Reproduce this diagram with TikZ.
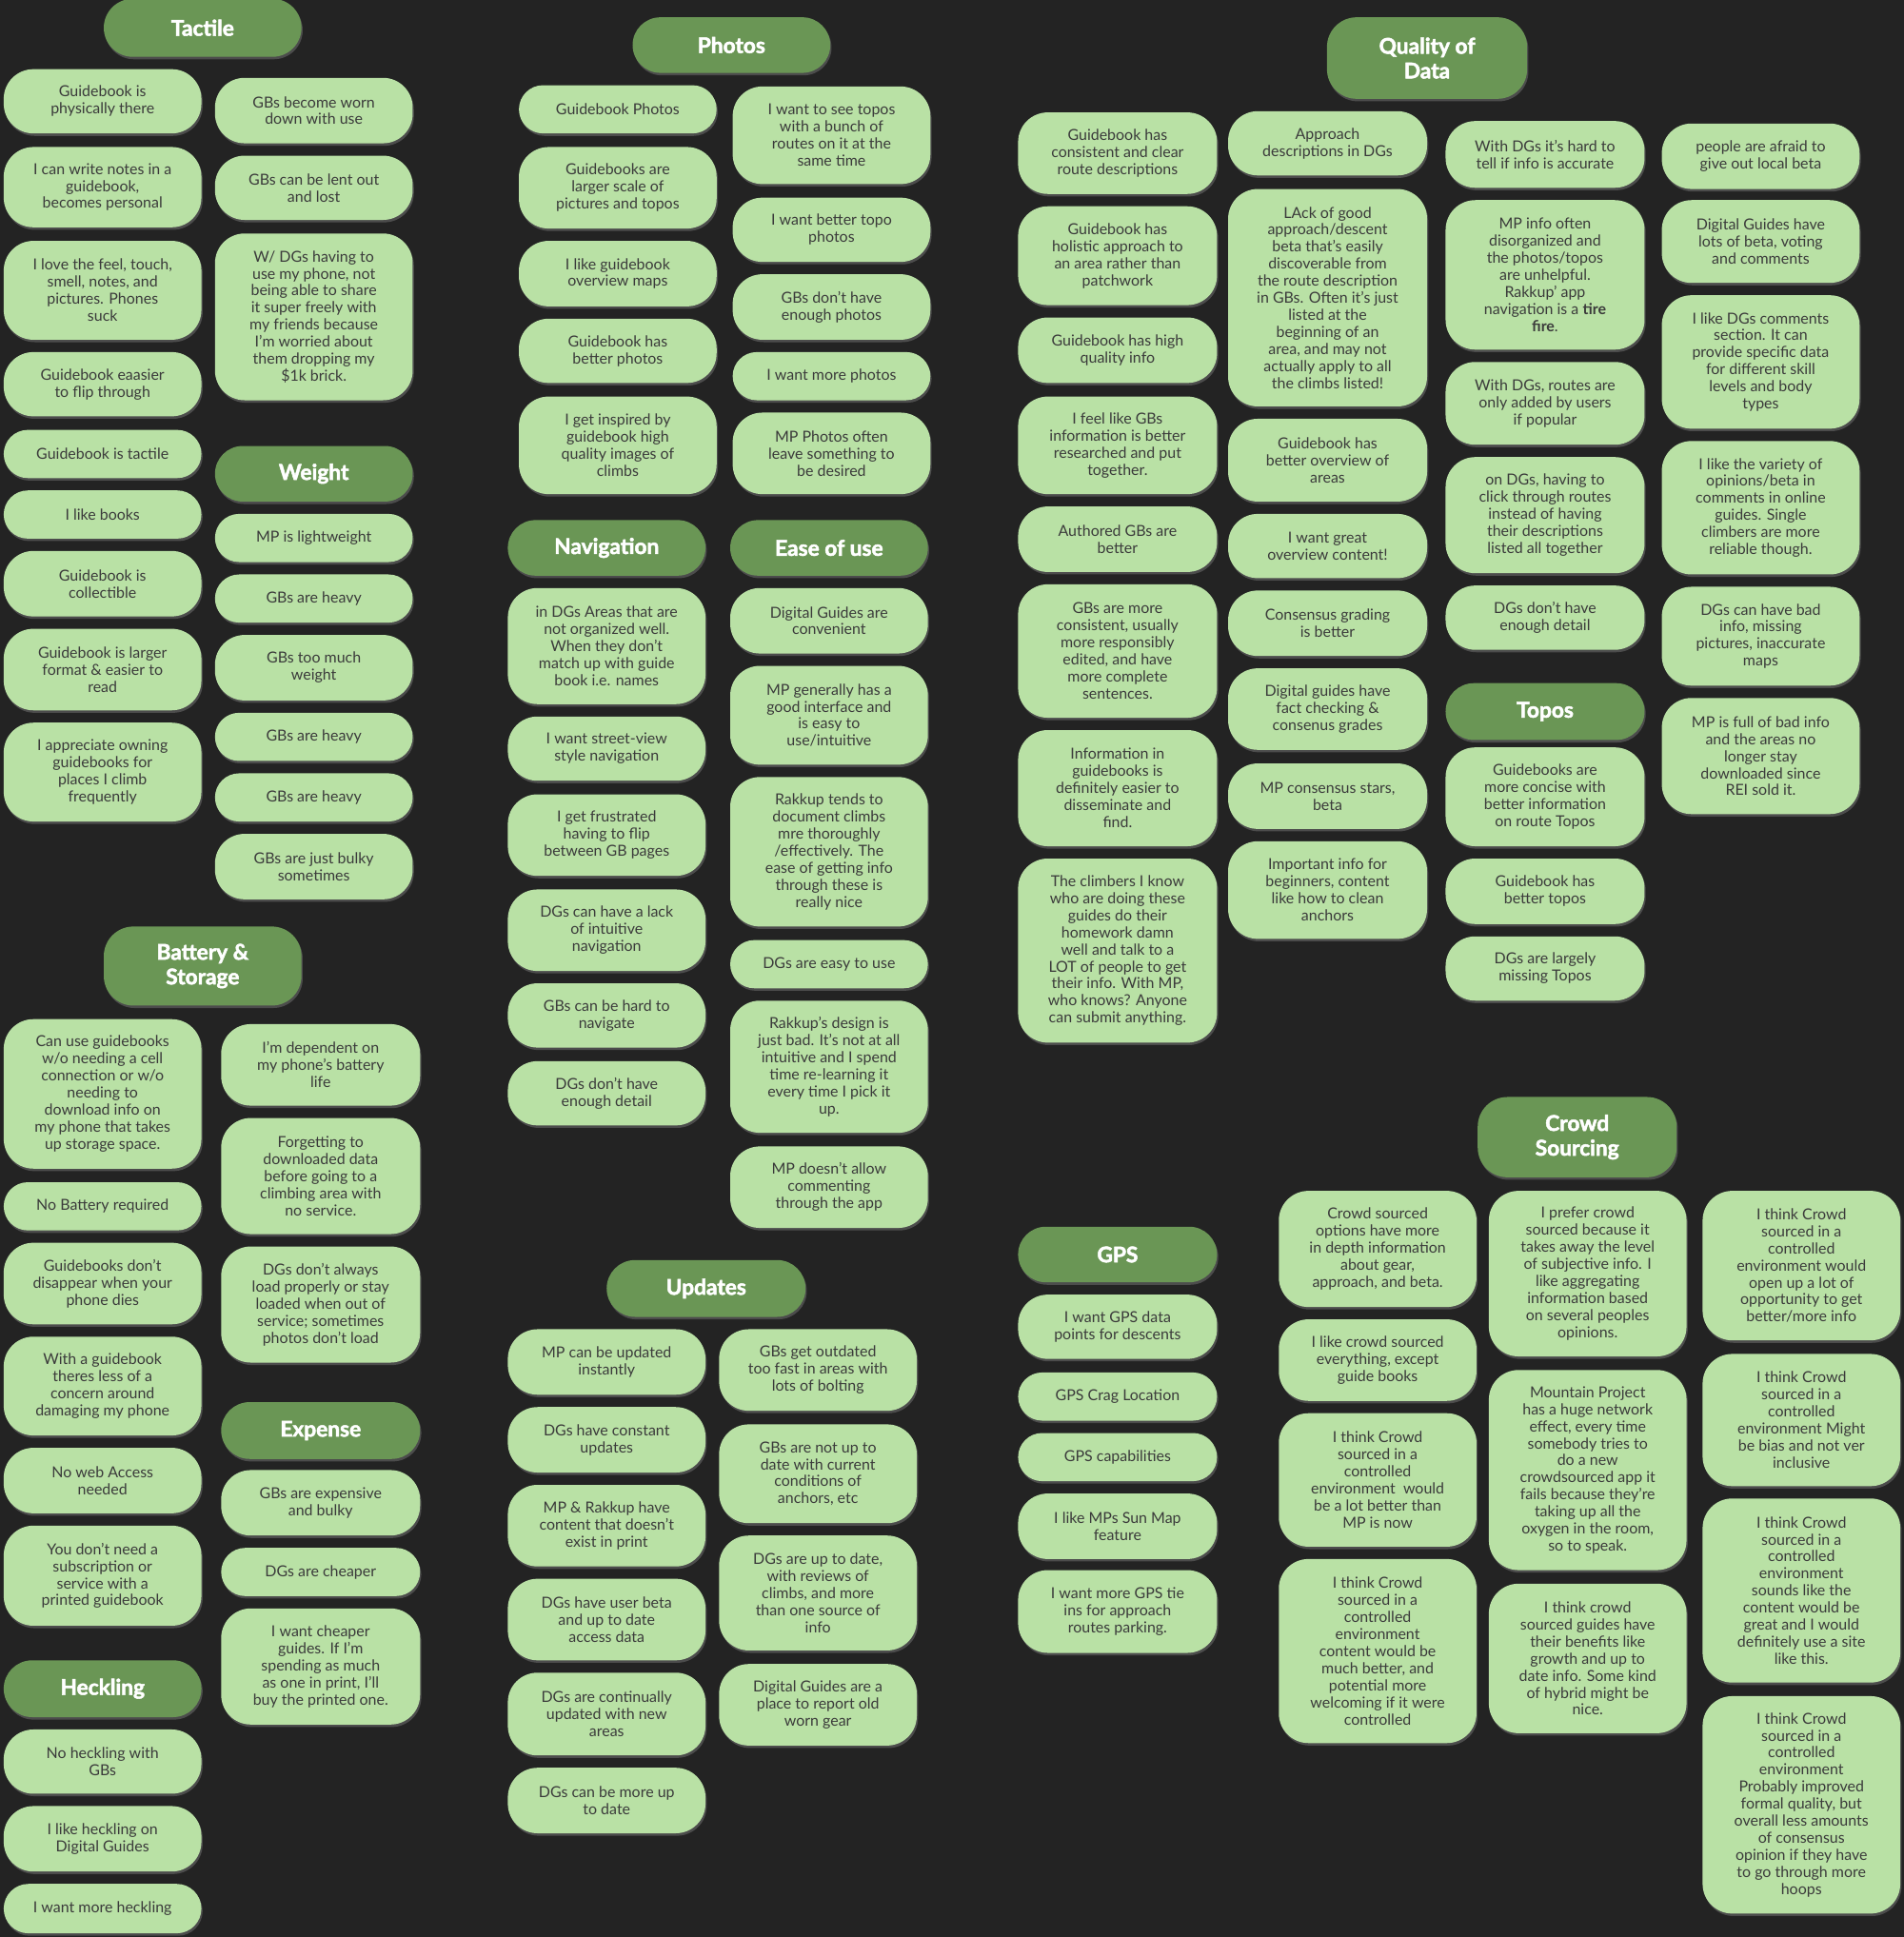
\documentclass[tikz,border=0pt]{standalone}
\usepackage{fontspec}
\setmainfont{Lato}
\newfontfamily\hdfont{Lato}[BoldFeatures={FakeBold=2.2}]
\usetikzlibrary{shadows}
\definecolor{bgc}{HTML}{232323}
\definecolor{notefill}{HTML}{B9E1A5}
\definecolor{headfill}{HTML}{6A9655}
\definecolor{notetext}{HTML}{3B3B3B}
\tikzset{
  note/.style={fill=notefill, text=notetext, align=center, inner sep=0pt,
    font=\fontsize{12.3}{13.8}\selectfont,
    drop shadow={opacity=0.45, shadow xshift=1pt, shadow yshift=-2pt}},
  head/.style={fill=headfill, text=white, align=center, inner sep=0pt,
    font=\hdfont\fontsize{17.5}{20}\selectfont\bfseries,
    drop shadow={opacity=0.45, shadow xshift=1pt, shadow yshift=-2pt}}
}
\newcommand\notebox[7]{%
  \pgfmathsetmacro\nbh{#6-#4}%
  \pgfmathsetmacro\nbr{min(24,\nbh/2)}%
  \node[#1, rounded corners=\nbr pt, minimum width={#5-#3}, minimum height=\nbh pt] (#2) at ({(#3+#5)/2},{(#4+#6)/2}) {#7};%
}
\begin{document}
\begin{tikzpicture}[x=1pt,y=-1pt]
\useasboundingbox (0,0) rectangle (1541,1568);
\fill[bgc] (0,0) rectangle (1541,1568);
% ---------- Tactile ----------
\notebox{head}{hTactile}{84}{-1}{244}{46}{Tactile}
\notebox{note}{t1}{3}{56}{163}{108}{Guidebook is\\physically there}
\notebox{note}{t2}{3}{119}{163}{184}{I can write notes in a\\guidebook,\\becomes personal}
\notebox{note}{t3}{3}{195}{163}{275}{I love the feel, touch,\\smell, notes, and\\pictures. Phones\\suck}
\notebox{note}{t4}{3}{285}{163}{337}{Guidebook eaasier\\to flip through}
\notebox{note}{t5}{3}{348}{163}{387}{Guidebook is tactile}
\notebox{note}{t6}{3}{397}{163}{436}{I like books}
\notebox{note}{t7}{3}{446}{163}{499}{Guidebook is\\collectible}
\notebox{note}{t8}{3}{509}{163}{575}{Guidebook is larger\\format \& easier to\\read}
\notebox{note}{t9}{3}{585}{163}{665}{I appreciate owning\\guidebooks for\\places I climb\\frequently}
\notebox{note}{t10}{174}{63}{334}{116}{GBs become worn\\down with use}
\notebox{note}{t11}{174}{126}{334}{178}{GBs can be lent out\\and lost}
\notebox{note}{t12}{174}{189}{334}{324}{W/ DGs having to\\use my phone, not\\being able to share\\it super freely with\\my friends because\\I'm worried about\\them dropping my\\\$1k brick.}
% ---------- Weight ----------
\notebox{head}{hWeight}{174}{361}{334}{406}{Weight}
\notebox{note}{w1}{174}{416}{334}{455}{MP is lightweight}
\notebox{note}{w2}{174}{465}{334}{504}{GBs are heavy}
\notebox{note}{w3}{174}{514}{334}{567}{GBs too much\\weight}
\notebox{note}{w4}{174}{577}{334}{616}{GBs are heavy}
\notebox{note}{w5}{174}{626}{334}{665}{GBs are heavy}
\notebox{note}{w6}{174}{675}{334}{728}{GBs are just bulky\\sometimes}
% ---------- Battery & Storage ----------
\notebox{head}{hBattery}{84}{750}{244}{814}{Battery \&\\Storage}
\notebox{note}{b1}{3}{825}{163}{946}{Can use guidebooks\\w/o needing a cell\\connection or w/o\\needing to\\download info on\\my phone that takes\\up storage space.}
\notebox{note}{b2}{3}{957}{163}{996}{No Battery required}
\notebox{note}{b3}{3}{1006}{163}{1072}{Guidebooks don't\\disappear when your\\phone dies}
\notebox{note}{b4}{3}{1082}{163}{1162}{With a guidebook\\theres less of a\\concern around\\damaging my phone}
\notebox{note}{b5}{3}{1172}{163}{1225}{No web Access\\needed}
\notebox{note}{b6}{3}{1235}{163}{1316}{You don't need a\\subscription or\\service with a\\printed guidebook}
\notebox{note}{b7}{179}{829}{340}{895}{I'm dependent on\\my phone's battery\\life}
\notebox{note}{b8}{179}{905}{340}{999}{Forgetting to\\downloaded data\\before going to a\\climbing area with\\no service.}
\notebox{note}{b9}{179}{1009}{340}{1103}{DGs don't always\\load properly or stay\\loaded when out of\\service; sometimes\\photos don't load}
% ---------- Expense ----------
\notebox{head}{hExpense}{179}{1135}{340}{1181}{Expense}
\notebox{note}{e1}{179}{1190}{340}{1243}{GBs are expensive\\and bulky}
\notebox{note}{e2}{179}{1253}{340}{1292}{DGs are cheaper}
\notebox{note}{e3}{179}{1302}{340}{1396}{I want cheaper\\guides. If I'm\\spending as much\\as one in print, I'll\\buy the printed one.}
% ---------- Heckling ----------
\notebox{head}{hHeckling}{3}{1344}{163}{1390}{Heckling}
\notebox{note}{h1}{3}{1400}{163}{1452}{No heckling with\\GBs}
\notebox{note}{h2}{3}{1462}{163}{1515}{I like heckling on\\Digital Guides}
\notebox{note}{h3}{3}{1525}{163}{1565}{I want more heckling}
% ---------- Photos ----------
\notebox{head}{hPhotos}{512}{14}{672}{59}{Photos}
\notebox{note}{p1}{420}{69}{580}{108}{Guidebook Photos}
\notebox{note}{p2}{420}{119}{580}{185}{Guidebooks are\\larger scale of\\pictures and topos}
\notebox{note}{p3}{420}{195}{580}{248}{I like guidebook\\overview maps}
\notebox{note}{p4}{420}{258}{580}{310}{Guidebook has\\better photos}
\notebox{note}{p5}{420}{321}{580}{400}{I get inspired by\\guidebook high\\quality images of\\climbs}
\notebox{note}{p6}{593}{70}{753}{149}{I want to see topos\\with a bunch of\\routes on it at the\\same time}
\notebox{note}{p7}{593}{160}{753}{212}{I want better topo\\photos}
\notebox{note}{p8}{593}{222}{753}{275}{GBs don't have\\enough photos}
\notebox{note}{p9}{593}{285}{753}{324}{I want more photos}
\notebox{note}{p10}{593}{334}{753}{400}{MP Photos often\\leave something to\\be desired}
% ---------- Navigation ----------
\notebox{head}{hNav}{411}{421}{571}{466}{Navigation}
\notebox{note}{n1}{411}{476}{571}{570}{in DGs Areas that are\\not organized well.\\When they don't\\match up with guide\\book i.e. names}
\notebox{note}{n2}{411}{580}{571}{632}{I want street-view\\style navigation}
\notebox{note}{n3}{411}{643}{571}{709}{I get frustrated\\having to flip\\between GB pages}
\notebox{note}{n4}{411}{720}{571}{786}{DGs can have a lack\\of intuitive\\navigation}
\notebox{note}{n5}{411}{796}{571}{848}{GBs can be hard to\\navigate}
\notebox{note}{n6}{411}{859}{571}{911}{DGs don't have\\enough detail}
% ---------- Ease of use ----------
\notebox{head}{hEase}{591}{421}{751}{466}{Ease of use}
\notebox{note}{u1}{591}{476}{751}{529}{Digital Guides are\\convenient}
\notebox{note}{u2}{591}{539}{751}{619}{MP generally has a\\good interface and\\is easy to\\use/intuitive}
\notebox{note}{u3}{591}{629}{751}{750}{Rakkup tends to\\document climbs\\mre thoroughly\\/effectively. The\\ease of getting info\\through these is\\really nice}
\notebox{note}{u4}{591}{761}{751}{800}{DGs are easy to use}
\notebox{note}{u5}{591}{810}{751}{917}{Rakkup's design is\\just bad. It's not at all\\intuitive and I spend\\time re-learning it\\every time I pick it\\up.}
\notebox{note}{u6}{591}{928}{751}{994}{MP doesn't allow\\commenting\\through the app}
% ---------- Updates ----------
\notebox{head}{hUpdates}{491}{1020}{652}{1066}{Updates}
\notebox{note}{d1}{411}{1076}{571}{1129}{MP can be updated\\instantly}
\notebox{note}{d2}{411}{1139}{571}{1192}{DGs have constant\\updates}
\notebox{note}{d3}{411}{1202}{571}{1268}{MP \& Rakkup have\\content that doesn't\\exist in print}
\notebox{note}{d4}{411}{1278}{571}{1344}{DGs have user beta\\and up to date\\access data}
\notebox{note}{d5}{411}{1354}{571}{1421}{DGs are continually\\updated with new\\areas}
\notebox{note}{d6}{411}{1431}{571}{1484}{DGs can be more up\\to date}
\notebox{note}{d7}{582}{1076}{742}{1142}{GBs get outdated\\too fast in areas with\\lots of bolting}
\notebox{note}{d8}{582}{1153}{742}{1233}{GBs are not up to\\date with current\\conditions of\\anchors, etc}
\notebox{note}{d9}{582}{1243}{742}{1336}{DGs are up to date,\\with reviews of\\climbs, and more\\than one source of\\info}
\notebox{note}{d10}{582}{1347}{742}{1413}{Digital Guides are a\\place to report old\\worn gear}
% ---------- Quality of Data ----------
\notebox{head}{hQuality}{1074}{14}{1236}{80}{Quality of\\Data}
\notebox{note}{q1}{824}{91}{985}{157}{Guidebook has\\consistent and clear\\route descriptions}
\notebox{note}{q2}{824}{167}{985}{247}{Guidebook has\\holistic approach to\\an area rather than\\patchwork}
\notebox{note}{q3}{824}{257}{985}{310}{Guidebook has high\\quality info}
\notebox{note}{q4}{824}{321}{985}{400}{I feel like GBs\\information is better\\researched and put\\together.}
\notebox{note}{q5}{824}{410}{985}{463}{Authored GBs are\\better}
\notebox{note}{q6}{824}{473}{985}{581}{GBs are more\\consistent, usually\\more responsibly\\edited, and have\\more complete\\sentences.}
\notebox{note}{q7}{824}{591}{985}{685}{Information in\\guidebooks is\\definitely easier to\\disseminate and\\find.}
\notebox{note}{q8}{824}{695}{985}{844}{The climbers I know\\who are doing these\\guides do their\\homework damn\\well and talk to a\\LOT of people to get\\their info. With MP,\\who knows? Anyone\\can submit anything.}
\notebox{note}{q9}{994}{90}{1155}{142}{Approach\\descriptions in DGs}
\notebox{note}{q10}{994}{153}{1155}{329}{LAck of good\\approach/descent\\beta that's easily\\discoverable from\\the route description\\in GBs. Often it's just\\listed at the\\beginning of an\\area, and may not\\actually apply to all\\the climbs listed!}
\notebox{note}{q11}{994}{339}{1155}{406}{Guidebook has\\better overview of\\areas}
\notebox{note}{q12}{994}{416}{1155}{468}{I want great\\overview content!}
\notebox{note}{q13}{994}{478}{1155}{531}{Consensus grading\\is better}
\notebox{note}{q14}{994}{541}{1155}{607}{Digital guides have\\fact checking \&\\consenus grades}
\notebox{note}{q15}{994}{618}{1155}{671}{MP consensus stars,\\beta}
\notebox{note}{q16}{994}{681}{1155}{760}{Important info for\\beginners, content\\like how to clean\\anchors}
\notebox{note}{q17}{1170}{98}{1331}{152}{With DGs it's hard to\\tell if info is accurate}
\notebox{note}{q18}{1170}{162}{1331}{283}{MP info often\\disorganized and\\the photos/topos\\are unhelpful.\\Rakkup' app\\navigation is a \textbf{tire}\\\textbf{fire}.}
\notebox{note}{q19}{1170}{293}{1331}{360}{With DGs, routes are\\only added by users\\if popular}
\notebox{note}{q20}{1170}{370}{1331}{464}{on DGs, having to\\click through routes\\instead of having\\their descriptions\\listed all together}
\notebox{note}{q21}{1170}{474}{1331}{526}{DGs don't have\\enough detail}
\notebox{note}{q22}{1345}{100}{1505}{153}{people are afraid to\\give out local beta}
\notebox{note}{q23}{1345}{162}{1505}{229}{Digital Guides have\\lots of beta, voting\\and comments}
\notebox{note}{q24}{1345}{239}{1505}{347}{I like DGs comments\\section. It can\\provide specific data\\for different skill\\levels and body\\types}
\notebox{note}{q25}{1345}{357}{1505}{465}{I like the variety of\\opinions/beta in\\comments in online\\guides. Single\\climbers are more\\reliable though.}
\notebox{note}{q26}{1345}{475}{1505}{555}{DGs can have bad\\info, missing\\pictures, inaccurate\\maps}
\notebox{note}{q27}{1345}{565}{1505}{659}{MP is full of bad info\\and the areas no\\longer stay\\downloaded since\\REI sold it.}
% ---------- Topos ----------
\notebox{head}{hTopos}{1170}{553}{1331}{599}{Topos}
\notebox{note}{o1}{1170}{605}{1331}{685}{Guidebooks are\\more concise with\\better information\\on route Topos}
\notebox{note}{o2}{1170}{695}{1331}{748}{Guidebook has\\better topos}
\notebox{note}{o3}{1170}{758}{1331}{810}{DGs are largely\\missing Topos}
% ---------- GPS ----------
\notebox{head}{hGPS}{824}{993}{985}{1038}{GPS}
\notebox{note}{g1}{824}{1048}{985}{1100}{I want GPS data\\points for descents}
\notebox{note}{g2}{824}{1111}{985}{1150}{GPS Crag Location}
\notebox{note}{g3}{824}{1160}{985}{1199}{GPS capabilities}
\notebox{note}{g4}{824}{1209}{985}{1262}{I like MPs Sun Map\\feature}
\notebox{note}{g5}{824}{1271}{985}{1338}{I want more GPS tie\\ins for approach\\routes parking.}
% ---------- Crowd Sourcing ----------
\notebox{head}{hCrowd}{1196}{888}{1357}{953}{Crowd\\Sourcing}
\notebox{note}{c1}{1035}{964}{1195}{1058}{Crowd sourced\\options have more\\in depth information\\about gear,\\approach, and beta.}
\notebox{note}{c2}{1035}{1068}{1195}{1134}{I like crowd sourced\\everything, except\\guide books}
\notebox{note}{c3}{1035}{1144}{1195}{1252}{I think Crowd\\sourced in a\\controlled\\environment\ \ would\\be a lot better than\\MP is now}
\notebox{note}{c4}{1035}{1262}{1195}{1411}{I think Crowd\\sourced in a\\controlled\\environment\\content would be\\much better, and\\potential more\\welcoming if it were\\controlled}
\notebox{note}{c5}{1205}{964}{1365}{1098}{I prefer crowd\\sourced because it\\takes away the level\\of subjective info. I\\like aggregating\\information based\\on several peoples\\opinions.}
\notebox{note}{c6}{1205}{1109}{1365}{1271}{Mountain Project\\has a huge network\\effect, every time\\somebody tries to\\do a new\\crowdsourced app it\\fails because they're\\taking up all the\\oxygen in the room,\\so to speak.}
\notebox{note}{c7}{1205}{1282}{1365}{1403}{I think crowd\\sourced guides have\\their benefits like\\growth and up to\\date info. Some kind\\of hybrid might be\\nice.}
\notebox{note}{c8}{1378}{964}{1538}{1085}{I think Crowd\\sourced in a\\controlled\\environment would\\open up a lot of\\opportunity to get\\better/more info}
\notebox{note}{c9}{1378}{1096}{1538}{1203}{I think Crowd\\sourced in a\\controlled\\environment Might\\be bias and not ver\\inclusive}
\notebox{note}{c10}{1378}{1213}{1538}{1362}{I think Crowd\\sourced in a\\controlled\\environment\\sounds like the\\content would be\\great and I would\\definitely use a site\\like this.}
\notebox{note}{c11}{1378}{1373}{1538}{1549}{I think Crowd\\sourced in a\\controlled\\environment\\Probably improved\\formal quality, but\\overall less amounts\\of consensus\\opinion if they have\\to go through more\\hoops}
\end{tikzpicture}
\end{document}
